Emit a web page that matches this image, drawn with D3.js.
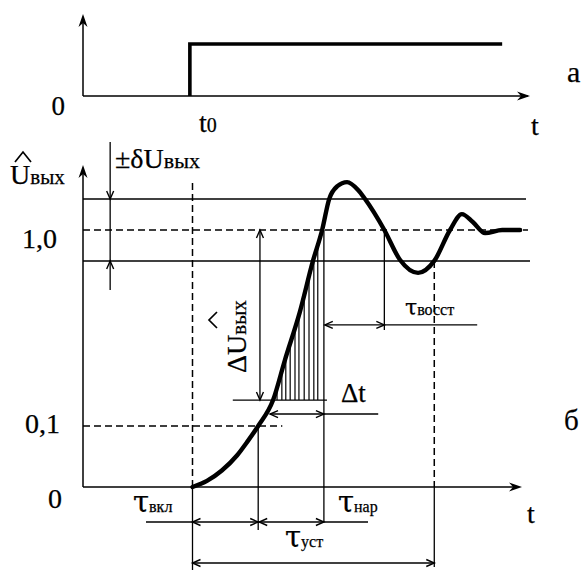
<!DOCTYPE html>
<html><head><meta charset="utf-8">
<script src="https://cdn.jsdelivr.net/npm/d3@7"></script>
<style>
html,body{margin:0;padding:0;background:#fff;}
svg{display:block;}
text{font-family:"Liberation Serif","Times New Roman",serif;fill:#000;stroke:#000;stroke-width:0.25px;}
tspan.gr{font-family:"DejaVu Serif",serif;}
</style></head>
<body>
<script>
// ---- data ----
// panel a: input step
const stepT = [-0.6, 70.7];          // step starts at t0, line ends
const stepLevel = [0, 1];
// panel б: output transient response (t in arbitrary units, U normalised)
const curveT = [0, 3.3, 6.7, 10.2, 12.4, 15, 18.4, 21.1, 24.5, 27.5, 29.6, 31.2, 33.0, 35.3, 37.8, 39.4, 43.8, 47.4, 51.5, 55.2, 58.8, 61.5, 64.0, 66.8, 70.7, 74.8];
const curveU = [0, 0.010, 0.027, 0.052, 0.073, 0.1, 0.219, 0.403, 0.623, 0.858, 1.0, 1.142, 1.200, 1.220, 1.184, 1.142, 1.0, 0.862, 0.803, 0.858, 1.0, 1.073, 1.037, 0.986, 1.0, 1.0];
// levels
const levelValues = [0, 0.1, 1.0];
const levelLabels = ["0", "0,1", "1,0"];
const delta = 0.142;                 // ± δU tolerance band
// characteristic times
const tOn = 0, t10 = 15, tRise = 30, tRec = 43.8, tSet = 55.2;
// hatch times under the rising front
const hatchT = [19.3, 20.4, 21.3, 22.3, 23.4, 24.3, 25.5, 26.6, 27.7, 28.6];
const hatchBase = 0.219, dtLevel = 0.155, dtArrowStart = 17.7;

const W = 587, H = 570;
const svg = d3.select("body").append("svg").attr("width", W).attr("height", H);

// scales
const x = d3.scaleLinear().domain([-25, 75]).range([83, 521]);
const ya = d3.scaleLinear().domain([0, 1]).range([96, 44]);
const y = d3.scaleLinear().domain([0, 0.1, 1]).range([487, 426, 230]);

const thin = 1.3;
function line(g, x1, y1, x2, y2, w, dash) {
  const l = g.append("line").attr("x1", x1).attr("y1", y1).attr("x2", x2).attr("y2", y2)
    .attr("stroke", "#000").attr("stroke-width", w || thin);
  if (dash) l.attr("stroke-dasharray", dash);
  return l;
}
// filled axis arrow
function axisArrow(g, tx, ty, dir) {
  const L = 13, hw = 4.5, n = 4;
  let p;
  if (dir === "up") p = [[tx, ty], [tx - hw, ty + L], [tx, ty + L - n], [tx + hw, ty + L]];
  else p = [[tx, ty], [tx - L, ty - hw], [tx - L + n, ty], [tx - L, ty + hw]];
  g.append("path").attr("d", "M" + p.map(d => d.join(",")).join("L") + "Z").attr("fill", "#000");
}
// open dimension arrowhead
function openArrow(g, tx, ty, dir) {
  const L = 8, hw = 3.5;
  let a, b;
  if (dir === "left") { a = [tx + L, ty - hw]; b = [tx + L, ty + hw]; }
  else if (dir === "right") { a = [tx - L, ty - hw]; b = [tx - L, ty + hw]; }
  else if (dir === "up") { a = [tx - hw, ty + L]; b = [tx + hw, ty + L]; }
  else { a = [tx - hw, ty - L]; b = [tx + hw, ty - L]; }
  g.append("path").attr("d", `M${a[0]},${a[1]}L${tx},${ty}L${b[0]},${b[1]}`)
    .attr("fill", "none").attr("stroke", "#000").attr("stroke-width", 1.4);
}
function label(g, xx, yy, main, sub, fs, sfs, anchor, mainCls) {
  const t = g.append("text").attr("x", xx).attr("y", yy).attr("text-anchor", anchor || "start");
  const m = t.append("tspan").attr("font-size", fs).text(main);
  if (mainCls) m.attr("class", mainCls);
  if (sub) t.append("tspan").attr("font-size", sfs).text(sub);
  return t;
}

// ================= panel а =================
const ga = svg.append("g");
line(ga, 83, ya(0), 528, ya(0), 1.5);
axisArrow(ga, 530, ya(0), "right");
line(ga, 83, ya(0), 83, 18, 1.5);
axisArrow(ga, 83, 14, "up");
ga.append("path")
  .attr("d", d3.line()([[x(stepT[0]), ya(stepLevel[0])], [x(stepT[0]), ya(stepLevel[1])], [x(stepT[1]), ya(stepLevel[1])]]))
  .attr("fill", "none").attr("stroke", "#000").attr("stroke-width", 3.6);
label(ga, 65, 115, "0", null, 27, 0, "end");
label(ga, 199, 132, "t", "0", 28, 20);
label(ga, 531, 135, "t", null, 28);
label(ga, 567, 82, "а", null, 30);

// ================= panel б =================
const gb = svg.append("g");
// axes
line(gb, 83, y(0), 518, y(0), 1.5);
axisArrow(gb, 522, y(0), "right");
line(gb, 83, y(0), 83, 170, 1.5);
axisArrow(gb, 83, 165, "up");

// tolerance band and 1.0 level
line(gb, 83, y(1 + delta), 526, y(1 + delta), 1.5);
line(gb, 83, y(1 - delta), 530, y(1 - delta), 1.5);
line(gb, 83, y(1), 528, y(1), 1.5, "7,4");
// 0.1 level dashed
line(gb, 83, y(0.1), x(20.5), y(0.1), 1.5, "7,4");

// t0 vertical dashed, solid below axis
line(gb, x(tOn), 183, x(tOn), y(0), 1.5, "7,4");
line(gb, x(tOn), y(0), x(tOn), 570, thin);
// settle vertical dashed
line(gb, x(tSet), y(1 - delta), x(tSet), y(0), 1.5, "7,4");
line(gb, x(tSet), y(0), x(tSet), 567, thin);
// 0.1 crossing vertical
line(gb, x(t10), y(0.1), x(t10), 530, thin);
// rise end vertical
line(gb, x(tRise), y(1), x(tRise), 522, thin);
// recovery vertical
line(gb, x(tRec), y(1), x(tRec), 330, thin);

// curve
const pts = curveT.map((t, i) => [x(t), y(curveU[i])]);
const curvePath = gb.append("path")
  .attr("d", d3.line().curve(d3.curveMonotoneX)(pts))
  .attr("fill", "none").attr("stroke", "#000").attr("stroke-width", 4.4)
  .attr("stroke-linecap", "round").attr("stroke-linejoin", "round");

// sample curve to find heights at given x (rising part)
const node = curvePath.node();
const Ltot = node.getTotalLength();
const samples = [];
for (let s = 0; s <= Ltot; s += 0.5) { const p = node.getPointAtLength(s); samples.push([p.x, p.y]); }
function curveYatX(px) {
  for (let i = 1; i < samples.length; i++) {
    const a = samples[i - 1], b = samples[i];
    if ((a[0] - px) * (b[0] - px) <= 0 && b[0] !== a[0]) {
      return a[1] + (b[1] - a[1]) * (px - a[0]) / (b[0] - a[0]);
    }
  }
  return null;
}
// hatching
hatchT.forEach(t => {
  const cy = curveYatX(x(t));
  if (cy !== null) line(gb, x(t), y(hatchBase), x(t), cy, 1.2);
});
// hatch base line
line(gb, x(9.2), y(hatchBase), x(30.7), y(hatchBase), thin);

// ΔU arrow
line(gb, x(15.4), y(1), x(15.4), y(hatchBase), thin);
openArrow(gb, x(15.4), y(1), "up");
openArrow(gb, x(15.4), y(hatchBase), "down");

// Δt arrow
line(gb, x(dtArrowStart), y(dtLevel), x(42.4), y(dtLevel), thin);
openArrow(gb, x(dtArrowStart), y(dtLevel), "left");
openArrow(gb, x(tRise), y(dtLevel), "right");

// τ recovery arrow
const yRec = y(0.564);
line(gb, x(30.2), yRec, x(65), yRec, thin);
openArrow(gb, x(30.2), yRec, "left");
openArrow(gb, x(tRec), yRec, "right");

// ±δU arrow
const xd = x(-18.8);
line(gb, xd, 142, xd, 290, thin);
openArrow(gb, xd, y(1 + delta), "down");
openArrow(gb, xd, y(1 - delta), "up");

// bottom dimension arrows
const yRow1 = 522, yRow2 = 563;
line(gb, 146, yRow1, 368, yRow1, thin);
openArrow(gb, x(tOn), yRow1, "left");
openArrow(gb, x(t10), yRow1, "right");
openArrow(gb, x(t10) + 1, yRow1, "left");
openArrow(gb, x(tRise), yRow1, "right");
line(gb, x(tOn), yRow2, x(tSet), yRow2, thin);
openArrow(gb, x(tOn), yRow2, "left");
openArrow(gb, x(tSet), yRow2, "right");

// ---- labels ----
const lblPos = [[62, 508], [60, 433], [57, 248]];
levelValues.forEach((v, i) => label(gb, lblPos[i][0], lblPos[i][1], levelLabels[i], null, 28, 0, "end"));
// U-hat label
label(gb, 10, 184, "U", "вых", 28, 21);
gb.append("path").attr("d", "M15,162L23,152L31,162").attr("fill", "none").attr("stroke", "#000").attr("stroke-width", 1.7);
// ±δU
label(gb, 115, 168, "±δU", "вых", 28, 22);
// ΔU rotated
const gr = gb.append("g").attr("transform", "translate(246,373) rotate(-90)");
label(gr, 0, 0, "ΔU", "вых", 28, 21);
gr.append("path").attr("d", "M45,-29L53,-37L61,-29").attr("fill", "none").attr("stroke", "#000").attr("stroke-width", 1.7);
// Δt
label(gb, 341, 402, "Δt", null, 27);
// τ labels
label(gb, 405, 315, "τ", "восст", 22, 16, "start", "gr");
label(gb, 133, 512, "τ", "вкл", 29, 16, "start", "gr");
label(gb, 338, 512, "τ", "нар", 29, 16, "start", "gr");
label(gb, 285, 547, "τ", "уст", 29, 16, "start", "gr");
// axis label t and panel label б
label(gb, 527, 523, "t", null, 28);
label(gb, 564, 430, "б", null, 29);
</script>
</body></html>
